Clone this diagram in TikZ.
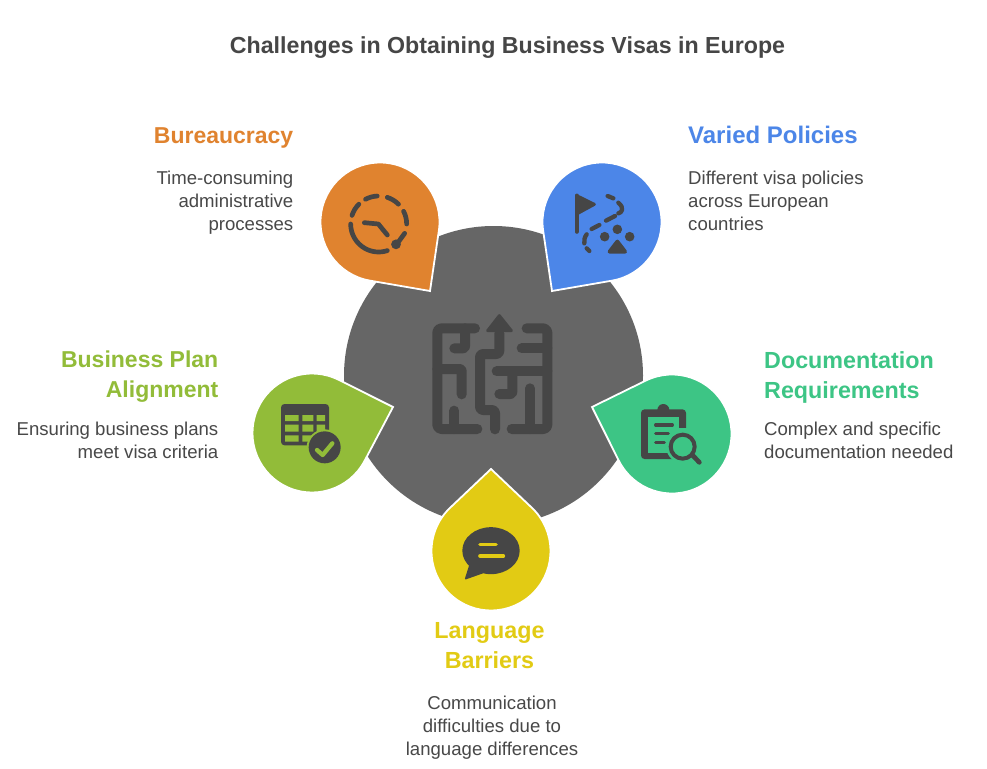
\documentclass[tikz,border=0pt]{standalone}
\usepackage{fontspec}
\setmainfont{Liberation Sans}
\usetikzlibrary{calc}
\definecolor{ink}{HTML}{464646}
\definecolor{body}{HTML}{484848}
\definecolor{hub}{HTML}{666666}
\definecolor{cOrange}{HTML}{E0832F}
\definecolor{cBlue}{HTML}{4C86E8}
\definecolor{cGreen}{HTML}{92BC39}
\definecolor{cTeal}{HTML}{3DC585}
\definecolor{cYellow}{HTML}{E2CB14}
\newcommand{\droplet}[6]{% cx cy tipx tipy r colour
  \pgfmathsetmacro{\dA}{atan2(#4-#2,#3-#1)}
  \pgfmathsetmacro{\dD}{sqrt((#3-#1)*(#3-#1)+(#4-#2)*(#4-#2))}
  \pgfmathsetmacro{\dT}{acos(#5/\dD)}
  \pgfmathsetmacro{\dS}{\dA+\dT}
  \pgfmathsetmacro{\dX}{#1+#5*cos(\dS)}
  \pgfmathsetmacro{\dY}{#2+#5*sin(\dS)}
  \pgfmathsetmacro{\dL}{360-2*\dT}
  \filldraw[fill=#6,draw=white,line width=1.8pt,miter limit=10]
    (#3,#4) -- (\dX,\dY) arc[start angle=\dS,delta angle=\dL,radius=#5] -- cycle;
}
\tikzset{
  titletext/.style={font=\fontsize{23.2}{28}\selectfont\bfseries,text=ink,inner sep=0pt},
  headtext/.style={font=\fontsize{23.3}{30}\selectfont\bfseries,inner sep=0pt},
  headsmall/.style={font=\fontsize{23}{30}\selectfont\bfseries,inner sep=0pt},
  desctext/.style={font=\fontsize{18.6}{23}\selectfont,text=body,inner sep=0pt},
  zoomed/.style={x=0.33333pt,y=-0.33333pt,line cap=round,line join=round},
}
\begin{document}
\begin{tikzpicture}[x=1pt,y=-1pt]
\useasboundingbox (0,0) rectangle (987,768);
\fill[white] (0,0) rectangle (987,768);
\node[titletext,anchor=base] (title) at (507.5,53) {Challenges in Obtaining Business Visas in Europe};
\fill[hub] (493.5,375.5) circle[radius=149.5];
\droplet{380}{222}{430}{291}{59.5}{cOrange}
\droplet{602}{222}{552}{291}{59.5}{cBlue}
\droplet{312}{433}{393}{407}{59.5}{cGreen}
\droplet{672}{434}{592}{407}{59.5}{cTeal}
\droplet{491}{551}{491}{469}{59.5}{cYellow}

% maze
\begin{scope}[shift={(420,300)},zoomed,draw=ink,line width=10pt]
\draw[rounded corners=4pt] (165,85) -- (52,85) -- (52,387) -- (172,387);
\draw[rounded corners=2pt] (135,85) -- (135,145) -- (103,145);
\draw[rounded corners=2pt] (52,207) -- (125,207) -- (125,283);
\draw (103,332) -- (103,387);
\draw[rounded corners=3pt] (238,100) -- (238,162) -- (180,162) -- (180,330) -- (225,330) -- (225,388);
\filldraw[fill=ink,line width=3pt] (238,47) -- (274,92) -- (203,92) -- cycle;
\draw[rounded corners=4pt] (320,85) -- (382,85) -- (382,387) -- (275,387);
\draw (305,145) -- (382,145);
\draw (230,214) -- (382,214);
\draw[rounded corners=2pt] (277,214) -- (277,282) -- (238,282);
\draw (330,265) -- (330,387);
\end{scope}

% clock
\begin{scope}[shift={(310,150)},zoomed,draw=ink,line width=4.7pt]
\draw ([shift={(180:84)}]206,222) arc[start angle=180,end angle=72,radius=84];
\foreach \a/\b in {198/225,242/267,288/315,333/360}
  \draw ([shift={(\a:84)}]206,222) arc[start angle=\a,end angle=\b,radius=84];
\draw (284,250) -- (260,283);
\fill[ink] (258,283) circle[radius=4.9pt];
\draw (163,218) -- (205,222) -- (232,255);
\end{scope}

% flag and route
\begin{scope}[shift={(310,150)},zoomed,draw=ink,line width=4.3pt]
\draw (800,137) -- (800,245);
\filldraw[fill=ink,line width=3pt] (800,137) -- (853,163) -- (800,192) -- cycle;
\draw (893,138) -- (910,145);
\draw (925,158) .. controls (945,175) and (935,188) .. (925,190);
\draw (888,212) -- (915,198);
\draw (845,237) -- (868,225);
\draw (830,253) .. controls (823,262) and (822,272) .. (823,280);
\draw (830,295) -- (838,303);
\fill[ink] (884,260) circle[radius=4.8pt] (922,238) circle[radius=4.8pt] (959,260) circle[radius=4.8pt];
\filldraw[fill=ink,line width=4pt] (922,275) -- (945,305) -- (899,305) -- cycle;
\end{scope}

% table with check
\begin{scope}[shift={(240,365)},zoomed]
\fill[ink,rounded corners=3.5pt] (123,117) rectangle (267,241);
\fill[cGreen] (135,150) rectangle (176,168) (187,150) rectangle (220,168) (230,150) rectangle (255,168)
  (135,179) rectangle (176,200) (187,179) rectangle (220,200) (230,179) rectangle (255,200)
  (135,211) rectangle (176,230) (187,211) rectangle (220,230);
\fill[cGreen] (254,247) circle[radius=18pt];
\fill[ink] (254,247) circle[radius=16pt];
\draw[cGreen,line width=4.3pt] (231,255) -- (248,270) -- (277,235);
\end{scope}

% clipboard and lens
\begin{scope}[shift={(585,365)},zoomed]
\fill[ink,rounded corners=3.5pt] (168,133) rectangle (303,282);
\fill[ink] (235,135) circle[radius=6pt];
\fill[cTeal] (190,155) rectangle (283,265);
\fill[cTeal] (283,190) rectangle (310,240);
\draw[ink,line width=3.3pt] (212,180) -- (262,180) (212,205) -- (250,205) (212,233) -- (238,233);
\fill[cTeal] (293,245) circle[radius=16.5pt];
\draw[ink,line width=4pt] (293,245) circle[radius=12pt];
\draw[ink,line width=4.7pt] (322,270) -- (343,292);
\end{scope}

% speech bubble
\begin{scope}[shift={(420,460)},zoomed]
\fill[ink] (213,272) ellipse[x radius=28.7pt,y radius=23.5pt];
\filldraw[fill=ink,draw=ink,line width=1.5pt] (150,315) -- (137,356) -- (188,338) -- cycle;
\draw[cYellow,line width=3.6pt] (180,254) -- (228,254) (180,288) -- (250,288);
\end{scope}

\node[headsmall,text=cOrange,anchor=base east] (h1) at (293.5,143) {Bureaucracy};
\node[desctext,anchor=north east,align=right] (d1) at (293.5,171) {Time-consuming\\administrative\\processes};
\node[headtext,text=cBlue,anchor=base west,font=\fontsize{24}{30}\selectfont\bfseries] (h2) at (688,143) {Varied Policies};
\node[desctext,anchor=north west,align=left] (d2) at (688,171) {Different visa policies\\across European\\countries};
\node[headsmall,text=cGreen,anchor=north east,align=right] (h3) at (218.5,351) {Business Plan\\Alignment};
\node[desctext,anchor=north east,align=right] (d3) at (218.5,422) {Ensuring business plans\\meet visa criteria};
\node[headtext,text=cTeal,anchor=north west,align=left] (h4) at (764,351) {Documentation\\Requirements};
\node[desctext,anchor=north west,align=left] (d4) at (764,422) {Complex and specific\\documentation needed};
\node[headtext,text=cYellow,anchor=north,align=center] (h5) at (489.5,622) {Language\\Barriers};
\node[desctext,anchor=north,align=center] (d5) at (492,696) {Communication\\difficulties due to\\language differences};
\end{tikzpicture}
\end{document}
